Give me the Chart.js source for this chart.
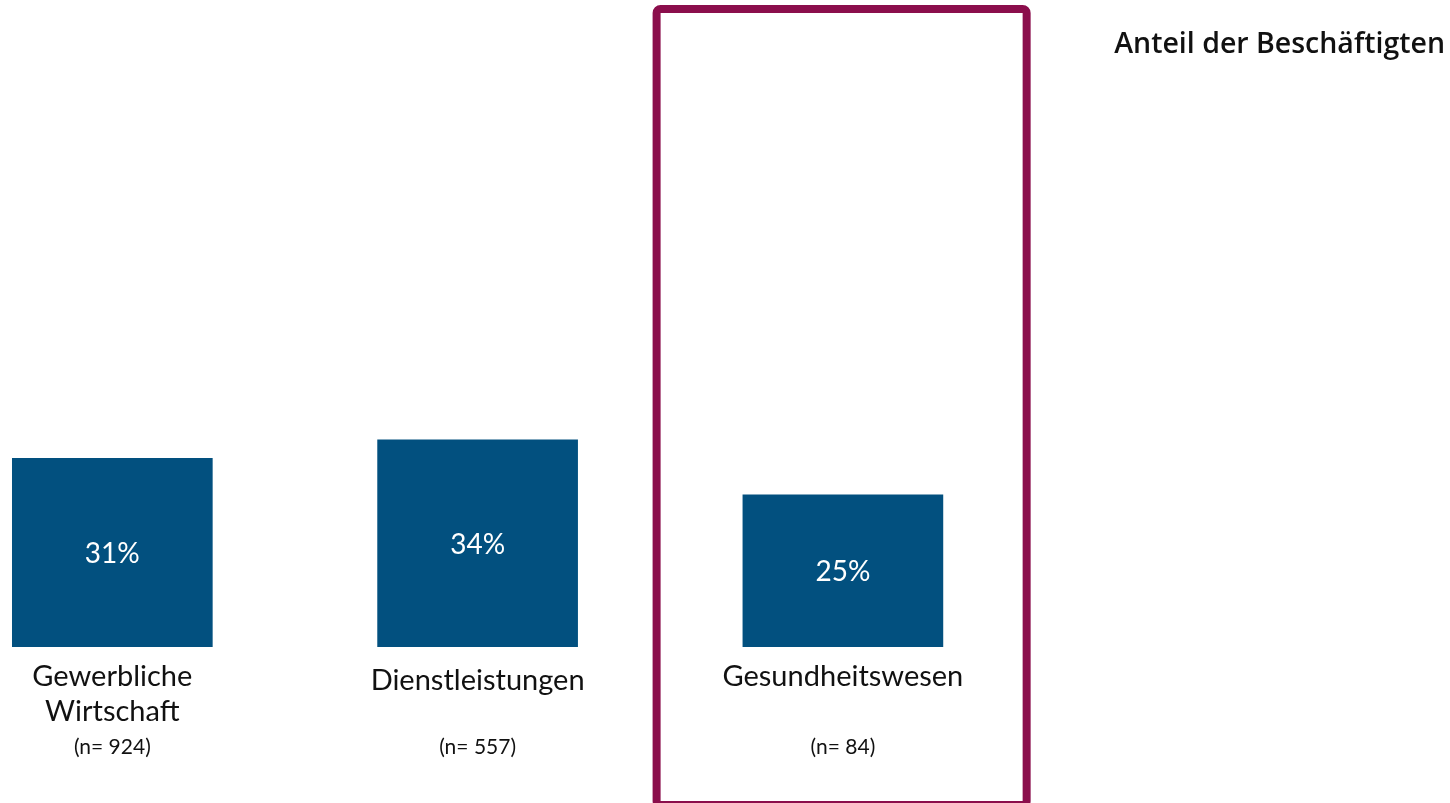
<!DOCTYPE html>
<html lang="de">
<head>
<meta charset="utf-8">
<title>Anteil der Beschäftigten</title>
<script src="https://cdn.jsdelivr.net/npm/chart.js@4.4.1/dist/chart.umd.min.js"></script>
<style>
  html, body { margin: 0; padding: 0; background: #fff; }
  #wrap { position: relative; width: 1450px; height: 803px; }
</style>
</head>
<body>
<div id="wrap"><canvas id="shareChart"></canvas></div>
<script>
// ====== Data ======
const categories = [["Gewerbliche", "Wirtschaft"], ["Dienstleistungen"], ["Gesundheitswesen"]];
const sampleSizes = ["(n= 924)", "(n= 557)", "(n= 84)"];
const shares = [31, 34, 25];
const highlighted = 2; // Gesundheitswesen gets the frame
const chartTitle = "Anteil der Beschäftigten";

const BAR_COLOR = "#02507f";
const FRAME_COLOR = "#8b0e4c";
const TEXT_COLOR = "#111";
const FONT = "Lato, 'Noto Sans', sans-serif";

// ====== Labels, frame and title ======
const annotations = {
  id: "annotations",
  beforeDatasetsDraw(chart) {
    const { ctx } = chart;
    const x = chart.scales.x;
    const left = x.getPixelForValue(highlighted + 1 - 0.51);
    const right = x.getPixelForValue(highlighted + 1 + 0.503);
    ctx.save();
    ctx.strokeStyle = FRAME_COLOR;
    ctx.lineWidth = 8;
    ctx.beginPath();
    ctx.roundRect(left, 9, right - left, 796, 4);
    ctx.stroke();
    ctx.restore();
  },
  afterDatasetsDraw(chart) {
    const { ctx } = chart;
    const meta = chart.getDatasetMeta(0);
    const x = chart.scales.x;
    ctx.save();
    ctx.textAlign = "center";

    // values inside the bars
    ctx.fillStyle = "#fff";
    ctx.font = "28px " + FONT;
    ctx.textBaseline = "middle";
    meta.data.forEach((bar, i) => {
      ctx.fillText(shares[i] + "%", bar.x, (bar.y + bar.base) / 2 + 1);
    });

    // category names and sample sizes under the bars
    ctx.fillStyle = TEXT_COLOR;
    ctx.textBaseline = "alphabetic";
    const baselines = [686, 690, 686];
    categories.forEach((lines, i) => {
      const cx = x.getPixelForValue(i + 1);
      ctx.font = "29px " + FONT;
      lines.forEach((line, j) => ctx.fillText(line, cx, baselines[i] + j * 35));
      ctx.font = "21px " + FONT;
      ctx.fillText(sampleSizes[i], cx, 754);
    });

    // heading on the right
    ctx.textAlign = "right";
    ctx.font = "600 28.5px 'Open Sans', sans-serif";
    ctx.fillText(chartTitle, 1445, 53);
    ctx.restore();
  },
};

// ====== Chart ======
const ctx = document.getElementById("shareChart");
new Chart(ctx, {
  type: "bar",
  data: {
    datasets: [
      {
        data: shares.map((v, i) => ({ x: i + 1, y: v })),
        backgroundColor: BAR_COLOR,
        borderWidth: 0,
        barThickness: 200,
      },
    ],
  },
  options: {
    responsive: true,
    maintainAspectRatio: false,
    animation: false,
    layout: { padding: { top: 38, bottom: 156, left: 0, right: 0 } },
    plugins: { legend: { display: false }, tooltip: { enabled: false } },
    scales: {
      x: { type: "linear", offset: false, min: 0.6925, max: 4.662, display: false },
      y: { min: 0, max: 100, display: false },
    },
  },
  plugins: [annotations],
});
</script>
</body>
</html>
